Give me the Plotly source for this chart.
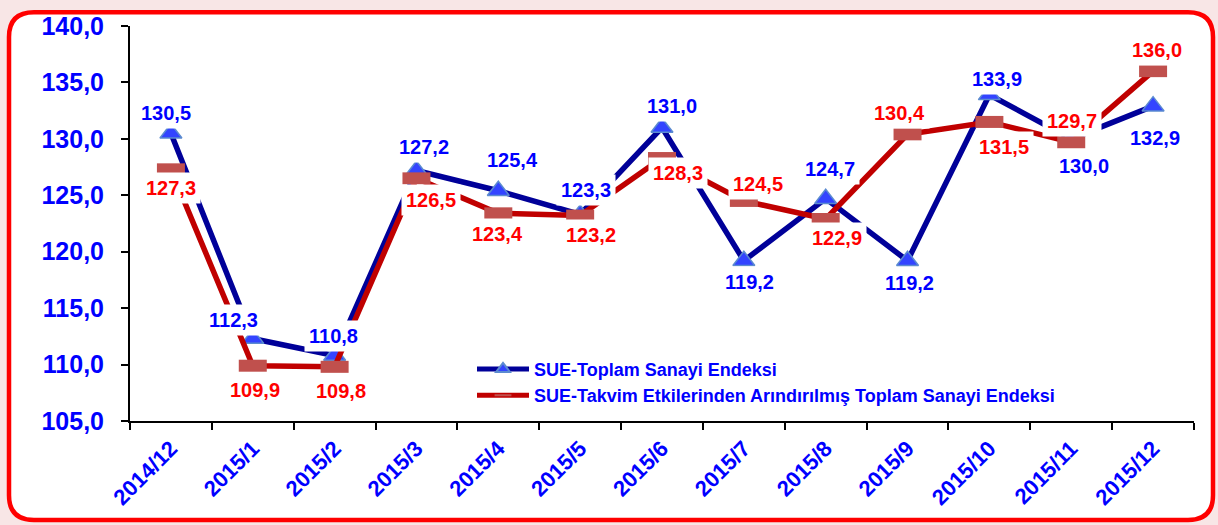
import plotly.graph_objects as go

# ---- data ----
categories = ["2014/12", "2015/1", "2015/2", "2015/3", "2015/4", "2015/5", "2015/6",
              "2015/7", "2015/8", "2015/9", "2015/10", "2015/11", "2015/12"]
sue_total = [130.5, 112.3, 110.8, 127.2, 125.4, 123.3, 131.0, 119.2, 124.7, 119.2, 133.9, 130.0, 132.9]
sue_adjusted = [127.3, 109.9, 109.8, 126.5, 123.4, 123.2, 128.3, 124.5, 122.9, 130.4, 131.5, 129.7, 136.0]
name_total = "SUE-Toplam Sanayi Endeksi"
name_adjusted = "SUE-Takvim Etkilerinden Arındırılmış Toplam Sanayi Endeksi"

# ---- label offsets (px, screen: dx right, dy down) ----
total_offsets = [(-5, -20), (-19, -19), (-1, -20), (8, -23), (14, -31), (6, -24), (10, -22),
                 (6, 21), (4, -30), (2, 22), (8, -16), (13, 27), (2, 32)]
adj_offsets = [(0, 19), (2, 24), (6, 24), (15, 22), (-1, 21), (11, 19), (16, 15),
               (14, -17), (11, 19), (-8, -21), (15, 25), (1, -21), (4, -21)]

FONT = "Arial, Liberation Sans, sans-serif"
BLUE_TXT = "#0000FF"
RED_TXT = "#FF0000"

W, H = 1218, 525
L_M, R_M, T_M, B_M = 130, 24, 22, 104
PW, PH = W - L_M - R_M, H - T_M - B_M


def xp(px):
    return (px - L_M) / PW


def yp(py):
    return (H - B_M - py) / PH


fig = go.Figure()
fig.add_trace(go.Scatter(
    x=categories, y=sue_total, name=name_total, mode="lines+markers",
    line=dict(color="#000099", width=5.5),
    marker=dict(symbol="triangle-up", size=19, color="#3344FF",
                line=dict(color="#5B8BD0", width=1.5)),
))
fig.add_trace(go.Scatter(
    x=categories, y=sue_adjusted, name=name_adjusted, mode="lines+markers",
    line=dict(color="#C00000", width=5.5),
    marker=dict(symbol="line-ew", size=20, color="#C0504D",
                line=dict(color="#C0504D", width=12)),
))


def fmt(v):
    return f"{v:.1f}".replace(".", ",")


annotations = []
for series, offs, col in ((sue_total, total_offsets, BLUE_TXT), (sue_adjusted, adj_offsets, RED_TXT)):
    for c, v, (dx, dy) in zip(categories, series, offs):
        annotations.append(dict(
            x=c, y=v, xref="x", yref="y", text=fmt(v), showarrow=False,
            xshift=dx, yshift=-dy, bgcolor="white", borderpad=4,
            font=dict(family=FONT, size=20, color=col, weight="bold"),
        ))

# rounded red frame
Lb, Rb, Tb, Bb, r = 9, 1213, 8, 521, 25
path = (f"M {xp(Lb + r)},{yp(Tb)} L {xp(Rb - r)},{yp(Tb)} Q {xp(Rb)},{yp(Tb)} {xp(Rb)},{yp(Tb + r)} "
        f"L {xp(Rb)},{yp(Bb - r)} Q {xp(Rb)},{yp(Bb)} {xp(Rb - r)},{yp(Bb)} "
        f"L {xp(Lb + r)},{yp(Bb)} Q {xp(Lb)},{yp(Bb)} {xp(Lb)},{yp(Bb - r)} "
        f"L {xp(Lb)},{yp(Tb + r)} Q {xp(Lb)},{yp(Tb)} {xp(Lb + r)},{yp(Tb)} Z")

fig.update_layout(
    width=W, height=H, autosize=False,
    margin=dict(l=L_M, r=R_M, t=T_M, b=B_M),
    paper_bgcolor="#F8E6E6", plot_bgcolor="rgba(0,0,0,0)",
    separators=",.",
    shapes=[dict(type="path", path=path, xref="paper", yref="paper",
                 fillcolor="white", line=dict(color="#FF0000", width=4.5), layer="below")],
    annotations=annotations,
    showlegend=True,
    legend=dict(x=xp(472), y=yp(350), xanchor="left", yanchor="top",
                bgcolor="rgba(0,0,0,0)", itemwidth=52, tracegroupgap=0,
                itemsizing="constant",
                font=dict(family=FONT, size=18, color=BLUE_TXT, weight="bold")),
    xaxis=dict(type="category", range=[-0.5, len(categories) - 0.5], tickson="boundaries",
               ticks="outside", ticklen=7, tickwidth=2, tickcolor="black",
               showline=True, linecolor="black", linewidth=2, showgrid=False, zeroline=False,
               tickangle=-45, ticklabelstandoff=4,
               tickfont=dict(family=FONT, size=22, color=BLUE_TXT, weight="bold")),
    yaxis=dict(range=[105, 140], dtick=5, tickformat=".1f",
               ticks="outside", ticklen=7, tickwidth=2, tickcolor="black",
               showline=True, linecolor="black", linewidth=2, showgrid=False, zeroline=False,
               ticklabelstandoff=12,
               tickfont=dict(family=FONT, size=25, color=BLUE_TXT, weight="bold")),
)

fig.write_html("out.html", config={"displayModeBar": False},
               post_script="document.body.style.margin='0';document.body.style.overflow='hidden';")
